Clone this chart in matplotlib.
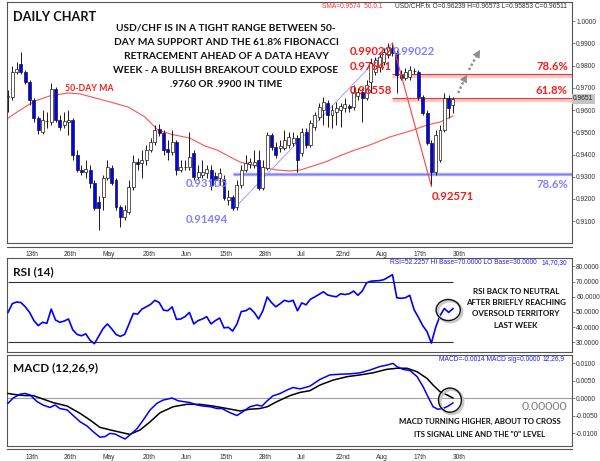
import matplotlib
matplotlib.use('Agg')
import matplotlib.pyplot as plt
from matplotlib.patches import Ellipse
from matplotlib.lines import Line2D
import numpy as np

# ---- USD/CHF daily bars, oldest first ----
opens = [0.9659, 0.9659, 0.9772, 0.9808, 0.9772, 0.9727, 0.9646, 0.9564, 0.9501, 0.9551,
         0.9546, 0.9695, 0.9555, 0.9533, 0.9546, 0.9555, 0.9398, 0.9330, 0.9321, 0.9330,
         0.9272, 0.9186, 0.9209, 0.9294, 0.9339, 0.9285, 0.9163, 0.9118, 0.9141, 0.9254,
         0.9366, 0.9362, 0.9375, 0.9420, 0.9456, 0.9515, 0.9497, 0.9425, 0.9411, 0.9456,
         0.9330, 0.9344, 0.9344, 0.9407, 0.9299, 0.9308, 0.9317, 0.9330, 0.9303, 0.9294,
         0.9285, 0.9195, 0.9209, 0.9163, 0.9263, 0.9330, 0.9357, 0.9353, 0.9375, 0.9249,
         0.9339, 0.9488, 0.9434, 0.9429, 0.9429, 0.9443, 0.9452, 0.9474, 0.9407, 0.9501,
         0.9443, 0.9524, 0.9569, 0.9600, 0.9632, 0.9578, 0.9591, 0.9600, 0.9609, 0.9619,
         0.9614, 0.9664, 0.9682, 0.9655, 0.9727, 0.9772, 0.9794, 0.9817, 0.9848, 0.9880,
         0.9857, 0.9758, 0.9745, 0.9749, 0.9776, 0.9772, 0.9659, 0.9587, 0.9452, 0.9321,
         0.9375, 0.9510, 0.9655, 0.96239]
highs = [0.9691, 0.9799, 0.9817, 0.9862, 0.9781, 0.9736, 0.9655, 0.9574, 0.9600, 0.9591,
         0.9722, 0.9704, 0.9578, 0.9591, 0.9600, 0.9564, 0.9420, 0.9353, 0.9375, 0.9353,
         0.9285, 0.9213, 0.9308, 0.9375, 0.9353, 0.9294, 0.9172, 0.9172, 0.9285, 0.9398,
         0.9384, 0.9420, 0.9443, 0.9474, 0.9533, 0.9537, 0.9510, 0.9465, 0.9510, 0.9465,
         0.9375, 0.9375, 0.9501, 0.9420, 0.9353, 0.9375, 0.9353, 0.9353, 0.9321, 0.9339,
         0.9308, 0.9240, 0.9218, 0.9285, 0.9353, 0.9398, 0.9384, 0.9420, 0.9420, 0.9375,
         0.9501, 0.9497, 0.9456, 0.9465, 0.9510, 0.9501, 0.9501, 0.9488, 0.9519, 0.9519,
         0.9555, 0.9591, 0.9632, 0.9659, 0.9646, 0.9623, 0.9637, 0.9632, 0.9655, 0.9628,
         0.9713, 0.9700, 0.9700, 0.9736, 0.9835, 0.9839, 0.9862, 0.9880, 0.9900, 0.99022,
         0.9871, 0.9781, 0.9790, 0.9799, 0.9790, 0.9781, 0.9668, 0.9600, 0.9465, 0.9510,
         0.9533, 0.9677, 0.9668, 0.96573]
lows = [0.9591, 0.9646, 0.9763, 0.9763, 0.9718, 0.9623, 0.9546, 0.9492, 0.9492, 0.9519,
        0.9533, 0.9546, 0.9510, 0.9519, 0.9488, 0.9375, 0.9321, 0.9308, 0.9294, 0.9249,
        0.9150, 0.9060, 0.9150, 0.9285, 0.9263, 0.9150, 0.9073, 0.9105, 0.9132, 0.9240,
        0.9330, 0.9294, 0.9353, 0.9411, 0.9443, 0.9483, 0.9398, 0.9375, 0.9398, 0.9308,
        0.9321, 0.9330, 0.9330, 0.9285, 0.9285, 0.9294, 0.9294, 0.9240, 0.9258, 0.9263,
        0.9195, 0.9172, 0.91494, 0.9150, 0.9249, 0.9321, 0.9339, 0.9339, 0.9240, 0.9240,
        0.9330, 0.9420, 0.9384, 0.9411, 0.9420, 0.9429, 0.9438, 0.9321, 0.9393, 0.9429,
        0.9434, 0.9510, 0.9555, 0.9533, 0.9524, 0.9519, 0.9533, 0.9524, 0.9591, 0.9591,
        0.9600, 0.9646, 0.9546, 0.9646, 0.9677, 0.9758, 0.9772, 0.9803, 0.9835, 0.9844,
        0.9677, 0.9736, 0.9736, 0.9736, 0.9763, 0.9646, 0.9578, 0.9443, 0.92571, 0.9308,
        0.9366, 0.9501, 0.9564, 0.95853]
closes = [0.9664, 0.9772, 0.9785, 0.9772, 0.9727, 0.9646, 0.9564, 0.9510, 0.9555, 0.9553,
          0.9695, 0.9555, 0.9524, 0.9551, 0.9555, 0.9398, 0.9330, 0.9321, 0.9335, 0.9272,
          0.9159, 0.9159, 0.9294, 0.9344, 0.9272, 0.9163, 0.9118, 0.9150, 0.9254, 0.9366,
          0.9357, 0.9375, 0.9420, 0.9456, 0.9510, 0.9497, 0.9420, 0.9411, 0.9456, 0.9330,
          0.9344, 0.9342, 0.9389, 0.9299, 0.9321, 0.9321, 0.9335, 0.9263, 0.9285, 0.9317,
          0.9204, 0.9209, 0.9159, 0.9263, 0.9330, 0.9362, 0.9366, 0.9366, 0.9249, 0.9344,
          0.9488, 0.9434, 0.9398, 0.9438, 0.9465, 0.9479, 0.9474, 0.9375, 0.9501, 0.9443,
          0.9542, 0.9578, 0.9614, 0.9637, 0.9578, 0.9600, 0.9609, 0.9619, 0.9628, 0.9609,
          0.9682, 0.9682, 0.9655, 0.9713, 0.9812, 0.9826, 0.9839, 0.9862, 0.9884, 0.9857,
          0.9758, 0.9745, 0.9772, 0.9781, 0.9778, 0.9659, 0.9587, 0.9452, 0.9321, 0.9488,
          0.9510, 0.9655, 0.9609, 0.96511]

# 50-day SMA, sampled at bar positions
ma_idx = [0, 2.8, 6.2, 9.7, 13.9, 16.7, 20.1, 23.6, 27.8, 31.7, 34.7, 38.0, 42.1, 45.6, 48.4,
          51.4, 53.7, 58.3, 62.3, 65.3, 67.6, 69.9, 73.4, 77.3, 80.3, 83.8, 88.4, 93.8, 97.0,
          100.0, 103.0]
ma_val = [0.9564, 0.9600, 0.9641, 0.9664, 0.9677, 0.9673, 0.9655, 0.9637, 0.9614, 0.9569,
          0.9510, 0.9490, 0.9474, 0.9438, 0.9420, 0.9389, 0.9366, 0.9344, 0.9330, 0.9326,
          0.9330, 0.9344, 0.9366, 0.9398, 0.9420, 0.9443, 0.9479, 0.9510, 0.9533, 0.9546,
          0.9574]

# RSI(14), one value per bar
rsi = [49.7, 55.5, 56.6, 56.2, 53.4, 49.7, 44.3, 41.0, 43.2, 42.5,
       51.9, 44.7, 43.2, 44.0, 45.4, 38.2, 35.2, 34.3, 35.6, 31.3,
       29.1, 34.0, 39.0, 42.1, 38.9, 35.2, 33.9, 35.2, 42.0, 49.0,
       48.6, 51.9, 53.4, 55.0, 57.7, 56.2, 51.2, 50.8, 53.4, 45.1,
       45.4, 47.0, 49.7, 42.1, 44.3, 45.4, 46.9, 42.1, 44.3, 46.0,
       39.5, 39.9, 37.4, 42.1, 50.3, 50.8, 52.5, 49.7, 45.4, 50.8,
       59.9, 56.2, 53.4, 55.5, 57.7, 56.8, 57.7, 50.8, 56.0, 54.7,
       58.4, 59.9, 61.6, 63.3, 61.2, 60.5, 60.0, 62.0, 61.5, 62.0,
       63.8, 61.0, 63.8, 69.2, 70.3, 70.5, 70.7, 71.3, 72.9, 74.6,
       59.4, 59.0, 59.4, 61.0, 51.5, 46.5, 41.0, 37.0, 29.5, 39.9,
       47.5, 52.3, 49.7, 52.2]
rsi_levels = [70, 30]

# MACD(12,26,9) main and signal lines, sampled at bar positions
macd_idx = [0, 1.2, 2.8, 3.9, 5.1, 6.7, 8.1, 9.7, 10.9, 12.0, 13.7, 15.0, 16.7, 18.3, 19.7,
            21.3, 22.5, 23.6, 24.8, 25.9, 27.1, 28.2, 29.9, 31.3, 32.9, 34.5, 35.9, 38.0, 39.4,
            40.5, 42.1, 43.8, 45.1, 46.8, 48.4, 49.5, 51.4, 53.0, 54.4, 56.0, 57.6, 58.8, 60.0,
            61.3, 63.0, 64.6, 66.0, 67.6, 69.9, 72.2, 74.5, 76.9, 79.2, 81.5, 83.8, 86.1, 87.7,
            89.1, 90.0, 91.4, 93.1, 94.7, 96.1, 97.2, 98.4, 99.5, 100.7, 101.9, 103.0]
macd_val = [-0.0015, 0.0000, 0.0011, 0.0013, 0.0009, -0.0010, -0.0020, -0.0027, -0.0020, -0.0030,
            -0.0034, -0.0049, -0.0068, -0.0080, -0.0096, -0.0112, -0.0110, -0.0101, -0.0103, -0.0110,
            -0.0117, -0.0106, -0.0087, -0.0063, -0.0034, -0.0015, -0.0006, 0.0000, -0.0008, -0.0010,
            -0.0013, -0.0020, -0.0023, -0.0025, -0.0030, -0.0030, -0.0042, -0.0050, -0.0039, -0.0025,
            -0.0020, -0.0023, -0.0008, 0.0006, 0.0013, 0.0023, 0.0030, 0.0026, 0.0034, 0.0053,
            0.0066, 0.0068, 0.0069, 0.0072, 0.0080, 0.0090, 0.0094, 0.0099, 0.0090, 0.0082,
            0.0078, 0.0061, 0.0032, 0.0004, -0.0025, -0.0032, -0.0030, -0.0023, -0.0014]
sig_idx = [0, 2.1, 3.9, 5.8, 8.1, 10.4, 13.7, 16.7, 19.0, 21.3, 24.3, 28.2, 30.6, 32.9, 35.2,
           38.2, 41.4, 44.4, 47.5, 50.7, 53.7, 56.0, 58.3, 60.0, 62.3, 65.3, 67.6, 69.9, 72.2,
           75.2, 78.5, 81.5, 84.5, 87.7, 90.0, 92.4, 94.7, 97.0, 98.4, 100.0, 101.6, 103.0]
sig_val = [0.0013, 0.0009, 0.0007, 0.0007, -0.0003, -0.0013, -0.0023, -0.0044, -0.0063, -0.0084,
           -0.0093, -0.0104, -0.0091, -0.0068, -0.0042, -0.0025, -0.0018, -0.0018, -0.0023, -0.0030,
           -0.0037, -0.0032, -0.0030, -0.0025, -0.0010, 0.0007, 0.0016, 0.0021, 0.0037, 0.0051,
           0.0061, 0.0066, 0.0072, 0.0082, 0.0085, 0.0085, 0.0075, 0.0056, 0.0037, 0.0018,
           0.0009, 0.0000]

# fibonacci swings and levels
swing_lo, swing_hi, swing_lo2 = 0.91494, 0.99022, 0.92571
i_lo, i_hi, i_lo2 = 52, 89, 98
fib_blue_786 = 0.93105
fib_red_786, fib_red_618 = 0.97641, 0.96558

date_idx = [5.6, 14.4, 23.4, 32.6, 41.2, 50.5, 59.5, 67.8, 77.5, 86.6, 95.4, 104.4]
date_lbl = ['13th', '26th', 'May', '20th', 'Jun', '15th', '28th', 'Jul', '22nd', 'Aug', '17th', '30th']

price_ticks = [0.91, 0.92, 0.93, 0.94, 0.95, 0.96, 0.97, 0.98, 0.99, 1.00]
rsi_ticks = [30, 40, 50, 60, 70, 80]
macd_ticks = [-0.01, -0.005, 0.0, 0.005, 0.01]

# ---- layout (pixel based, 600 x 461) ----
W, H = 600, 461
STEP, X0 = 4.32, 8          # px per bar, px of first bar
SMALL = 'Liberation Sans'
BOLD = 'Lato'
TXT = '#303030'
RED, LBLUE, BLUE = '#FF1A1A', '#8080FF', '#0000FF'


def fx(x):
    return x / W


def fy(y):
    return 1 - y / H


def ftext(x, y, s, **kw):
    kw.setdefault('va', 'center')
    fig.text(fx(x), fy(y), s, **kw)


plt.rcParams['font.family'] = [SMALL, 'DejaVu Sans']
fig = plt.figure(figsize=(W / 100, H / 100), dpi=100)


def panel(top, bottom, ylim):
    ax = fig.add_axes([fx(7), fy(bottom), fx(572) - fx(7), fy(top) - fy(bottom)])
    ax.set_xlim((7 - X0) / STEP, (572 - X0) / STEP)
    ax.set_ylim(*ylim)
    for s in ax.spines.values():
        s.set_color('#555555')
        s.set_linewidth(0.8)
    ax.yaxis.tick_right()
    ax.tick_params(axis='y', length=2, width=0.5, color='#555555', labelsize=4.8,
                   labelcolor=TXT, pad=1.0)
    ax.tick_params(axis='x', length=0, labelsize=4.8, labelcolor=TXT, pad=5.5)
    ax.set_xticks([])
    return ax


ax = panel(2, 243, (0.90014, 1.00869))
ax_r = panel(258, 352, (23.6, 85.6))
ax_m = panel(355, 446, (-0.01371, 0.01229))
for yy in (247, 449):
    fig.add_artist(Line2D([fx(7), fx(572)], [fy(yy), fy(yy)], color='#555555', lw=0.8))

# ---- price panel ----
o, h, l, c = map(np.asarray, (opens, highs, lows, closes))
idx = np.arange(len(c))
up = c >= o
ax.vlines(idx, l, h, color='#1a1a1a', lw=0.7, zorder=3)
ax.bar(idx, np.maximum(np.abs(c - o), 0.00004), bottom=np.minimum(o, c), width=0.68,
       color=np.where(up, 'white', BLUE), edgecolor='#1a1a1a', lw=0.5, zorder=4)
ax.plot(ma_idx, ma_val, color='#FF5050', lw=0.8, zorder=2)

xr = ax.get_xlim()[1]
ax.plot([i_lo, i_hi], [swing_lo, swing_hi], color='#A0A0FF', lw=0.7, zorder=2)
ax.hlines(fib_blue_786, i_lo, xr, color='#A8A8FF', lw=2.4, zorder=1)
ax.hlines(fib_blue_786, i_lo, xr, color='#8080FF', lw=0.7, zorder=1)
ax.plot([i_hi, i_lo2], [swing_hi, swing_lo2], color='#FF4040', lw=0.8, zorder=5)
for lev in (fib_red_786, fib_red_618):
    ax.hlines(lev - 0.0009, i_hi, xr, color='#FFC8C8', lw=2.4, zorder=1)
    ax.hlines(lev, i_hi, xr, color='#FF3030', lw=0.8, zorder=1)

ax.set_yticks(price_ticks, [f'{v:.4f}' for v in price_ticks])
ax.set_xticks(date_idx, date_lbl)
ax.text(1.0 + 1.2 / 565, closes[-1], f'{closes[-1]:.4f}', transform=ax.get_yaxis_transform(),
        fontsize=4.8, color='#202020', va='center', ha='left', clip_on=False,
        bbox=dict(boxstyle='square,pad=0.2', fc='#C4C4C4', ec='none'))

# dotted "breakout" arrows
for (x1, y1, x2, y2, x3, y3) in [(104.2, 0.9677, 105.6, 0.9736, 106.3, 0.9760),
                                 (106.7, 0.9781, 108.3, 0.9839, 109.3, 0.9871)]:
    ax.plot([x1, x2], [y1, y2], color='#8C8C8C', lw=1.7, ls=(0, (1, 1)),
            solid_capstyle='butt', clip_on=False)
    ax.annotate('', xy=(x3, y3), xytext=(x2, y2),
                arrowprops=dict(arrowstyle='-|>,head_length=0.7,head_width=0.35',
                                color='#8C8C8C', lw=0.5, shrinkA=0, shrinkB=0,
                                mutation_scale=7))

# ---- RSI panel ----
ax_r.plot(idx, rsi, color=BLUE, lw=1.2, zorder=3)
for lev in rsi_levels:
    ax_r.hlines(lev, 0, idx[-1], color='#333333', lw=0.8)
ax_r.set_yticks(rsi_ticks, [f'{v:.4f}' for v in rsi_ticks])
for dx, dy, col, lw in [(0.4, -1.0, '#C8C8C8', 2.0), (0, 0, '#111111', 1.0)]:
    ax_r.add_patch(Ellipse((101.9 + dx, 51.3 + dy), 5.6, 13.9, fill=False, ec=col, lw=lw,
                           zorder=4))

# ---- MACD panel ----
ax_m.axhline(0, color='#A0A0A0', lw=0.8, zorder=1)
ax_m.plot(sig_idx, sig_val, color='#000000', lw=1.1, zorder=3)
ax_m.plot(macd_idx, macd_val, color=BLUE, lw=1.1, zorder=4)
ax_m.set_yticks(macd_ticks, [f'{v:.4f}' for v in macd_ticks])
ax_m.set_xticks(date_idx, date_lbl)
for dx, dy, col, lw in [(0.4, -0.00045, '#C8C8C8', 2.0), (0, 0, '#111111', 1.0)]:
    ax_m.add_patch(Ellipse((102.3 + dx, -0.0006 + dy), 5.3, 0.0069, fill=False, ec=col, lw=lw,
                           zorder=5))

# ---- texts ----
ftext(13, 17, 'DAILY CHART', family=BOLD, weight='bold', fontsize=9.2, color='#111111')
note = ['USD/CHF IS IN A TIGHT RANGE BETWEEN 50-',
        'DAY MA SUPPORT AND THE 61.8% FIBONACCI',
        'RETRACEMENT AHEAD OF A DATA HEAVY',
        'WEEK - A BULLISH BREAKOUT COULD EXPOSE',
        '.9760 OR .9900 IN TIME']
for k, line in enumerate(note):
    ftext(226, 28.3 + 14 * k, line, ha='center', family=BOLD, weight='bold', fontsize=7.3,
          color='#111111')
ftext(65, 88.5, '50-DAY MA', family=BOLD, weight='bold', fontsize=6.3, color=RED)

ftext(322, 6, 'SMA=0.9574  50,0,1', fontsize=4.8, color='#FF3030')
ftext(395, 6, 'USD/CHF.fx O=0.96239 H=0.96573 L=0.95853 C=0.96511', fontsize=4.8, color=TXT)

fib_font = dict(family=BOLD, weight='bold', fontsize=8.2)
ftext(392, 51.5, f'{swing_hi:.5f}', ha='right', color=RED, **fib_font)
ftext(393, 51.5, f'{swing_hi:.5f}', ha='left', color=LBLUE, **fib_font)
ftext(392, 66, f'{fib_red_786:.5f}', ha='right', color=RED, **fib_font)
ftext(392, 90.5, f'{fib_red_618:.5f}', ha='right', color=RED, **fib_font)
ftext(432, 196, f'{swing_lo2:.5f}', ha='left', color=RED, **fib_font)
ftext(228, 183, f'{fib_blue_786:.5f}', ha='right', color=LBLUE, **fib_font)
ftext(228, 219, f'{swing_lo:.5f}', ha='right', color=LBLUE, **fib_font)
ftext(568, 66, '78.6%', ha='right', color=RED, **fib_font)
ftext(568, 90.5, '61.8%', ha='right', color=RED, **fib_font)
ftext(568, 184, '78.6%', ha='right', color=LBLUE, **fib_font)

ftext(13, 272, 'RSI (14)', family=BOLD, weight='bold', fontsize=8.6, color='#111111')
ftext(390, 263, 'RSI=52.2257 HI Base=70.0000 LO Base=30.0000', fontsize=4.8, color='#2020FF')
ftext(567, 263, '14,70,30', ha='right', fontsize=4.8, color='#2020FF')
rsi_note = ['RSI BACK TO NEUTRAL', 'AFTER BRIEFLY REACHING', 'OVERSOLD TERRITORY', 'LAST WEEK']
for k, line in enumerate(rsi_note):
    ftext(516, 291.7 + 11.1 * k, line, ha='center', family=BOLD, weight='bold', fontsize=5.8,
          color='#111111')

ftext(13, 368, 'MACD (12,26,9)', family=BOLD, weight='bold', fontsize=8.5, color='#111111')
ftext(439, 359, 'MACD=-0.0014 MACD sig=0.0000', fontsize=4.8, color='#2020FF')
ftext(565, 359, '12,26,9', ha='right', fontsize=4.8, color='#2020FF')
ftext(567, 406.5, '0.00000', ha='right', family=BOLD, fontsize=8.9, color='#808080')
macd_note = ['MACD TURNING HIGHER, ABOUT TO CROSS', 'ITS SIGNAL LINE AND THE "0" LEVEL']
for k, line in enumerate(macd_note):
    ftext(480, 421.7 + 12.6 * k, line, ha='center', family=BOLD, weight='bold', fontsize=5.6,
          color='#111111')

fig.savefig('out.png', dpi=100)
